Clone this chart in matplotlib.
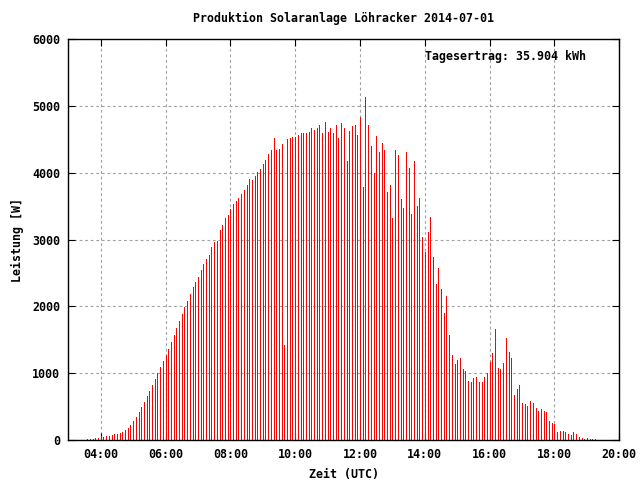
import matplotlib
matplotlib.use("Agg")
import matplotlib.pyplot as plt
import matplotlib.dates as mdates
import pandas as pd

# Leistung in W, 5-Minuten-Werte ab 03:35 UTC
start = "2014-07-01 03:35"
power = [
    # 03:35 - 06:15
    15, 15, 15, 30, 30, 60, 50, 60, 60, 75, 90, 90, 105, 120, 150, 180, 225,
    285, 345, 420, 495, 570, 660, 735, 820, 915, 1005, 1095, 1185, 1275, 1365,
    1470, 1575,
    # 06:20 - 09:00
    1676, 1781, 1885, 1995, 2080, 2184, 2289, 2363, 2438, 2542, 2632, 2706,
    2766, 2886, 2960, 2975, 3139, 3214, 3318, 3363, 3458, 3532, 3572, 3617,
    3677, 3736, 3811, 3900, 3885, 3945, 4005, 4050, 4124,
    # 09:05 - 11:50
    4194, 4283, 4343, 4522, 4343, 4358, 4433, 1418, 4507, 4522, 4537, 4537,
    4567, 4597, 4597, 4597, 4612, 4671, 4642, 4671, 4716, 4597, 4761, 4612,
    4671, 4597, 4716, 4522, 4746, 4671, 4179, 4627, 4701, 4716,
    # 11:55 - 14:35
    4567, 4836, 3791, 5134, 4716, 4403, 4000, 4552, 4313, 4448, 4343, 3716,
    3821, 3328, 4343, 4269, 3612, 3478, 4313, 4075, 3388, 4179, 3507, 3627,
    3045, 2806, 3119, 3343, 2731, 2328, 2567, 2254, 1895,
    # 14:40 - 17:20
    2150, 1567, 1269, 1134, 1194, 1224, 1060, 1030, 881, 866, 925, 940, 866,
    866, 940, 1000, 1164, 1298, 1657, 1075, 1060, 1149, 1522, 1313, 1224, 672,
    761, 821, 552, 537, 507, 582, 552,
    # 17:25 - 19:15
    479, 434, 464, 434, 419, 284, 254, 240, 120, 135, 135, 120, 90, 75, 120,
    90, 45, 30, 15, 30, 15, 15, 15,
]
yticks = [0, 1000, 2000, 3000, 4000, 5000, 6000]
title = "Produktion Solaranlage Löhracker 2014-07-01"
ertrag = "Tagesertrag: 35.904 kWh"

times = pd.date_range(start, periods=len(power), freq="5min")

plt.rcParams["font.family"] = ["DejaVu Sans Mono", "DejaVu Sans"]
plt.rcParams["font.weight"] = "bold"
plt.rcParams["font.size"] = 8.4

fig = plt.figure(figsize=(6.4, 4.8), dpi=100)
ax = fig.add_axes([0.1067, 0.0833, 0.8610, 0.8354])

# 1 px breite Impulse wie bei gnuplot
ax.vlines(times, 0, power, colors="#ff0000", linewidth=0.72, antialiased=False)

ax.set_xlim(pd.Timestamp("2014-07-01 03:00"), pd.Timestamp("2014-07-01 20:00"))
ax.set_ylim(0, 6000)
ax.set_yticks(yticks)
ax.xaxis.set_major_locator(mdates.HourLocator(byhour=range(4, 21, 2)))
ax.xaxis.set_major_formatter(mdates.DateFormatter("%H:%M"))

ax.set_axisbelow(True)
ax.grid(True, color="#a0a0a0", linestyle=(0, (2.5, 2.5)), linewidth=0.8)
ax.tick_params(direction="in", length=5, width=0.8, top=True, right=True,
               labelsize=8.4, pad=6)
for s in ax.spines.values():
    s.set_linewidth(1.0)

ax.set_xlabel("Zeit (UTC)", fontweight="bold", labelpad=5)
ax.set_ylabel("Leistung [W]", fontweight="bold", labelpad=6)
fig.text(0.537, 0.962, title, ha="center", va="center", fontweight="bold")
ax.text(0.94, 0.957, ertrag, transform=ax.transAxes, ha="right", va="center",
        fontweight="bold")

fig.savefig("out.png", dpi=100)
